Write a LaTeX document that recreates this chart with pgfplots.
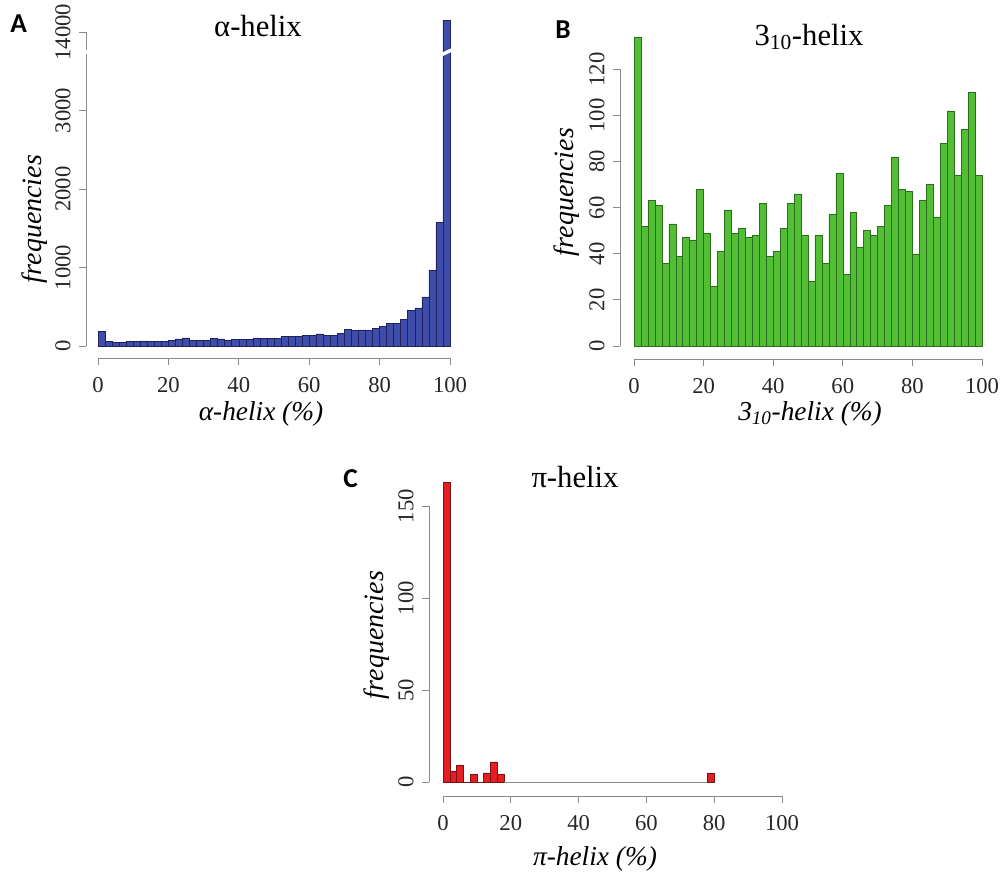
\documentclass[border=0pt]{standalone}
\usepackage{pgfplots}
\pgfplotsset{compat=1.18}
\usepackage{fontspec}
\setmainfont{Liberation Serif}
\newfontfamily\lettfont{Carlito}
\definecolor{afill}{HTML}{3E4CAA}
\definecolor{adraw}{HTML}{1E2360}
\definecolor{bfill}{HTML}{52BE34}
\definecolor{bdraw}{HTML}{2A6E1E}
\definecolor{cfill}{HTML}{E61E23}
\definecolor{cdraw}{HTML}{7A1414}
\definecolor{axgray}{HTML}{8A8A8A}

\pgfplotstableread{
x f
0 190
2 60
4 48
6 48
8 55
10 58
12 64
14 55
16 60
18 62
20 75
22 92
24 104
26 70
28 70
30 72
32 95
34 92
36 68
38 88
40 85
42 86
44 104
46 100
48 98
50 93
52 118
54 119
56 120
58 138
60 140
62 155
64 140
66 135
68 160
70 208
72 195
74 204
76 200
78 222
80 246
82 292
84 292
86 340
88 452
90 486
92 626
94 966
96 1570
98 14150
100 0
}\alphadata

\pgfplotstableread{
x f
0 134
2 52
4 63
6 61
8 36
10 53
12 39
14 47
16 46
18 68
20 49
22 26
24 41
26 59
28 49
30 51
32 47
34 48
36 62
38 39
40 41
42 51
44 62
46 66
48 48
50 28
52 48
54 36
56 57
58 75
60 31
62 58
64 43
66 50
68 48
70 52
72 61
74 82
76 68
78 67
80 40
82 63
84 70
86 56
88 88
90 102
92 74
94 94
96 110
98 74
100 0
}\threedata

\pgfplotstableread{
x f
0 163
2 6
4 9
6 0
8 4
10 0
12 5
14 11
16 4
18 0
}\pidataA
\pgfplotstableread{
x f
18 0
20 0
22 0
24 0
26 0
28 0
30 0
32 0
34 0
36 0
38 0
40 0
42 0
44 0
46 0
48 0
50 0
52 0
54 0
56 0
58 0
60 0
62 0
64 0
66 0
68 0
70 0
72 0
74 0
76 0
78 0
}\pidataB
\pgfplotstableread{
x f
78 5
80 0
}\pidataC

\pgfplotsset{rstyle/.style={
  scale only axis, xmin=0, xmax=100, ymin=0,
  axis lines*=left,
  axis line style={axgray, line width=0.7pt},
  every tick/.style={axgray, line width=0.7pt},
  tick align=outside,
  major tick length=5pt,
  xtick={0,20,...,100},
  ticklabel style={font=\fontsize{17}{17}\selectfont, text=black!85},
  /pgf/number format/assume math mode=true,
  /pgf/number format/1000 sep={},
  scaled y ticks=false,
  yticklabel style={rotate=90, anchor=south, yshift=3pt},
  xticklabel style={yshift=-6pt},
  clip=false,
}}

\begin{document}
\begin{tikzpicture}
\useasboundingbox (0,0) rectangle (752.25pt,-653.25pt);

% Panel A
\begin{axis}[rstyle,
  at={(73.5pt,-259.5pt)}, anchor=south west,
  width=264pt, height=235.5pt, ymax=4000,
  axis x line shift=9pt, axis y line shift=9pt,
  ytick={0,1000,2000,3000,4000},
  yticklabels={0,1000,2000,3000,14000},
]
\addplot[ybar interval, fill=afill, draw=adraw, line width=0.4pt,
  y filter/.expression={y>10000 ? y-10000 : y}] table[x=x,y=f] {\alphadata};
\draw[white, line width=2.6pt] (axis cs:96.6,3690) -- (axis cs:101.4,3790);
\draw[white, line width=2.6pt] (axis cs:-5.4,3700) -- (axis cs:-1.6,3780);
\end{axis}

% Panel B
\begin{axis}[rstyle,
  at={(475.5pt,-259.5pt)}, anchor=south west,
  width=261pt, height=207.5pt, ymax=120,
  axis x line shift=9.75pt, axis y line shift=10.5pt,
  ytick={0,20,...,120},
]
\addplot[ybar interval, fill=bfill, draw=bdraw, line width=0.4pt] table[x=x,y=f] {\threedata};
\end{axis}

% Panel C
\begin{axis}[rstyle,
  at={(332.25pt,-586.5pt)}, anchor=south west,
  width=254.25pt, height=207pt, ymax=150,
  axis x line shift=10.5pt, axis y line shift=10.5pt,
  ytick={0,50,100,150},
]
\addplot[ybar interval, fill=cfill, draw=cdraw, line width=0.4pt] table[x=x,y=f] {\pidataA};
\addplot[ybar interval, fill=none, draw=axgray, line width=0.5pt] table[x=x,y=f] {\pidataB};
\addplot[ybar interval, fill=cfill, draw=cdraw, line width=0.4pt] table[x=x,y=f] {\pidataC};
\end{axis}

% Titles
\node[anchor=base, font=\fontsize{23}{23}\selectfont] at (193.5pt,-27pt) {α-helix};
\node[anchor=base, font=\fontsize{23}{23}\selectfont] at (606.75pt,-33.75pt) {3\textsubscript{10}-helix};
\node[anchor=base, font=\fontsize{23}{23}\selectfont] at (431.25pt,-365.25pt) {π-helix};
% Panel letters
\node[anchor=base west, inner sep=0pt, font=\lettfont\bfseries\fontsize{20.5}{20.5}\selectfont] at (7.5pt,-24pt) {A};
\node[anchor=base west, inner sep=0pt, font=\lettfont\bfseries\fontsize{20.5}{20.5}\selectfont] at (416.25pt,-28.5pt) {B};
\node[anchor=base west, inner sep=0pt, font=\lettfont\bfseries\fontsize{20.5}{20.5}\selectfont] at (257.25pt,-365.25pt) {C};
% y labels
\node[anchor=base, rotate=90, inner sep=0pt, font=\itshape\fontsize{21}{21}\selectfont] at (31.3pt,-164.25pt) {frequencies};
\node[anchor=base, rotate=90, inner sep=0pt, font=\itshape\fontsize{21}{21}\selectfont] at (429.75pt,-144pt) {frequencies};
\node[anchor=base, rotate=90, inner sep=0pt, font=\itshape\fontsize{21}{21}\selectfont] at (287.25pt,-476.25pt) {frequencies};
% x labels
\node[anchor=base, inner sep=0pt, font=\itshape\fontsize{20.5}{20.5}\selectfont] at (195.75pt,-315pt) {α-helix (\%)};
\node[anchor=base, inner sep=0pt, font=\itshape\fontsize{20.5}{20.5}\selectfont] at (607.5pt,-315pt) {3\textsubscript{10}-helix (\%)};
\node[anchor=base, inner sep=0pt, font=\itshape\fontsize{20.5}{20.5}\selectfont] at (446.25pt,-648.75pt) {π-helix (\%)};
\end{tikzpicture}
\end{document}
